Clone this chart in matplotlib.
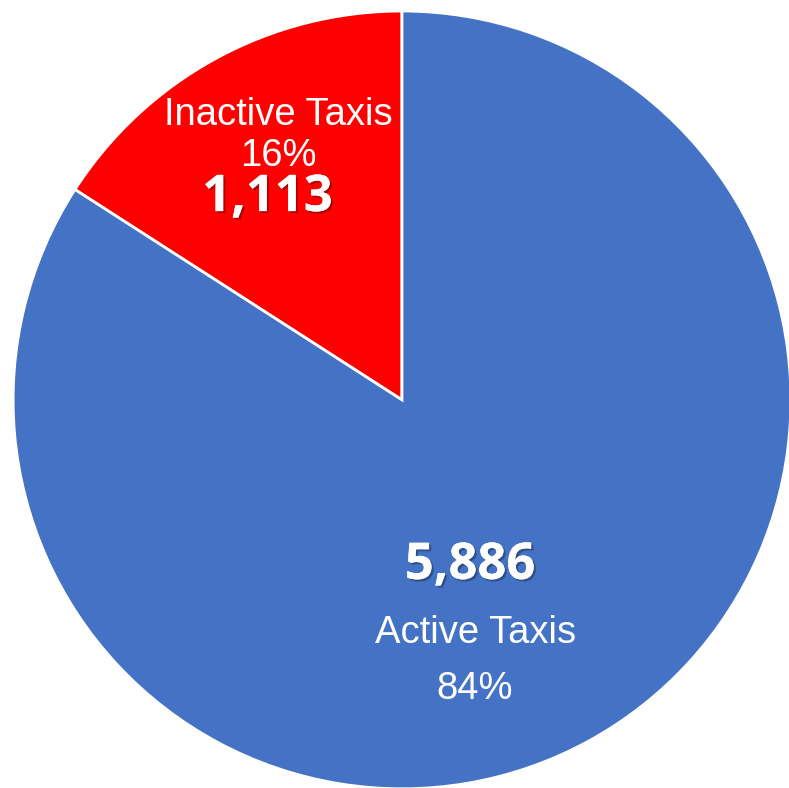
import matplotlib.pyplot as plt
import matplotlib.patheffects as pe

# Taxi counts
labels = ['Active Taxis', 'Inactive Taxis']
counts = [5886, 1113]
colors = ['#4472C4', '#FF0000']

total = sum(counts)
pcts = [round(c / total * 100) for c in counts]

fig = plt.figure(figsize=(7.89, 7.88), dpi=100)
ax = fig.add_axes([0.0165, -0.001, 0.986, 0.987])

# inactive slice goes counter-clockwise from 12 o'clock
ax.pie(counts[::-1], colors=colors[::-1], startangle=90, counterclock=True,
       radius=1.0, wedgeprops=dict(edgecolor='white', linewidth=2))
ax.set_xlim(-1, 1)
ax.set_ylim(-1, 1)
ax.set_aspect('equal')
ax.axis('off')

shadow = [pe.withSimplePatchShadow(offset=(1.5, -1.5), shadow_rgbFace='black', alpha=0.3), pe.Normal()]
reg = dict(color='white', ha='center', va='center', family='Liberation Sans', fontsize=27.5)
bold = dict(color='white', ha='center', va='center', family='Open Sans', fontweight='bold', fontsize=36.5)

# inactive labels
ax.text(-0.317, 0.732, labels[1], **reg)
ax.text(-0.319, 0.627, f'{pcts[1]}%', **reg)
ax.text(-0.346, 0.519, f'{counts[1]:,}', path_effects=shadow, **bold)

# active labels
ax.text(0.175, -0.427, f'{counts[0]:,}', path_effects=shadow, **bold)
ax.text(0.188, -0.599, labels[0], **reg)
ax.text(0.188, -0.743, f'{pcts[0]}%', **reg)

fig.savefig('out.png', dpi=100)
